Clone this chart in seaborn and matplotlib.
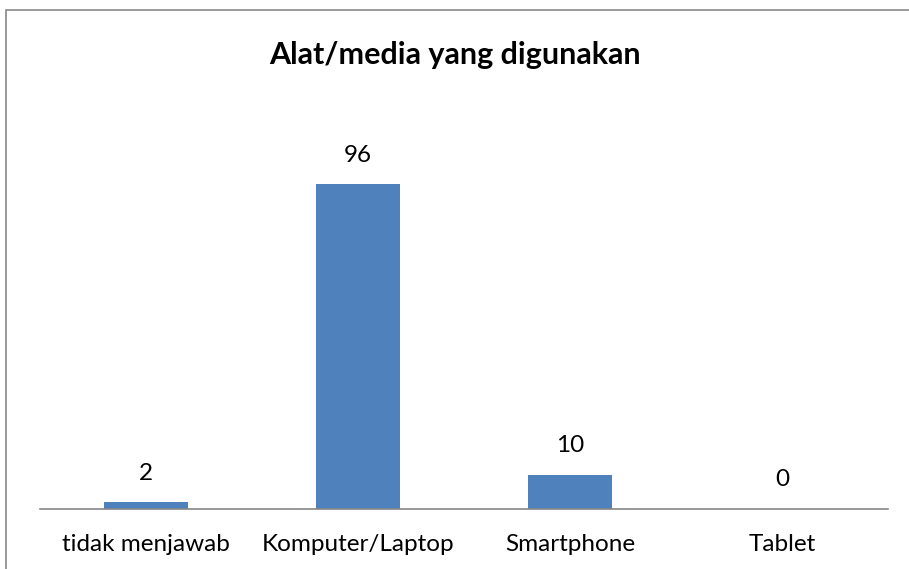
import matplotlib
matplotlib.use("Agg")
import matplotlib.pyplot as plt
import seaborn as sns
import pandas as pd

categories = ["tidak menjawab", "Komputer/Laptop", "Smartphone", "Tablet"]
values = [2, 96, 10, 0]
title = "Alat/media yang digunakan"

sns.set_theme(style="white")
plt.rcParams['font.family'] = ['Lato', 'DejaVu Sans']

df = pd.DataFrame({"cat": categories, "val": values})

fig = plt.figure(figsize=(9.09, 5.69), dpi=100)
ax = fig.add_axes([40/909, 60/569, 848/909, 406/569])

sns.barplot(data=df, x="cat", y="val", color="#4F81BD", width=0.4,
            saturation=1, ax=ax, edgecolor="none")

ax.set_ylim(0, 120)
ax.set_xlim(-0.5, 3.5)
ax.set_xlabel("")
ax.set_ylabel("")
ax.set_yticks([])
for s in ["top", "right", "left"]:
    ax.spines[s].set_visible(False)
ax.spines["bottom"].set_color("#868686")
ax.spines["bottom"].set_linewidth(1.2)
ax.tick_params(axis="x", length=0, pad=18, labelsize=17.5, colors="black")

for i, v in enumerate(values):
    ax.annotate(str(v), xy=(i, v), xytext=(0, 21), textcoords="offset points",
                ha="center", va="center", fontsize=17.5, color="black")

fig.text(0.5, 1 - 55/569, title, ha="center", va="center",
         fontsize=22, fontweight="bold", color="black")

border = plt.Rectangle((6/909, -0.05), 1.1, 1 - 10/569 + 0.05,
                       transform=fig.transFigure, fill=False,
                       edgecolor="#898989", linewidth=1.2)
fig.patches.append(border)

fig.savefig("out.png", dpi=100)
